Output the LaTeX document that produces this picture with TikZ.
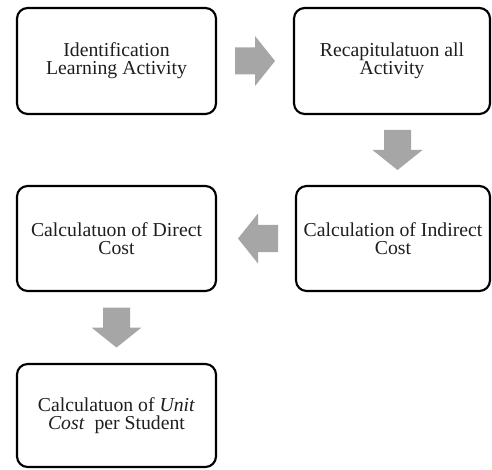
\documentclass[tikz,border=0pt]{standalone}
\usepackage{fontspec}
\setmainfont{Liberation Serif}
\usetikzlibrary{calc}
\definecolor{arrowgray}{RGB}{166,166,166}
\definecolor{inkgray}{RGB}{30,30,30}
\tikzset{
  stepbox/.style={draw=black, line width=1.6pt, rounded corners=8pt,
    rectangle, align=center, text=inkgray, inner sep=2pt,
    font=\fontsize{14.8}{13.6}\selectfont},
  blockarrow/.pic={
    \fill[arrowgray] (-20,-13.5) -- (0,-13.5) -- (0,-25) -- (20,0)
      -- (0,25) -- (0,13.5) -- (-20,13.5) -- cycle;
  }
}
\begin{document}
\begin{tikzpicture}[x=0.75pt, y=-0.75pt]
  \useasboundingbox (0,0) rectangle (492,470);
  % process steps
  \node[stepbox, minimum width=199*0.75pt, minimum height=106*0.75pt]
    (ident) at (116.5,61) {Identification\\Learning Activity};
  \node[stepbox, minimum width=196*0.75pt, minimum height=106*0.75pt]
    (recap) at (392,61) {Recapitulatuon all\\Activity};
  \node[stepbox, minimum width=194*0.75pt, minimum height=105*0.75pt]
    (indirect) at (393,238.5) {Calculation of Indirect\\Cost};
  \node[stepbox, minimum width=199*0.75pt, minimum height=105*0.75pt]
    (direct) at (116.5,238.5) {Calculatuon of Direct\\Cost};
  \node[stepbox, minimum width=199*0.75pt, minimum height=103*0.75pt]
    (unit) at (116.5,415.5) {Calculatuon of \textit{Unit}\\\textit{Cost}~ per Student};
  % block arrows between consecutive steps
  \pic at ($(ident.east)!0.5!(recap.west)$) {blockarrow};
  \pic[rotate=-90] at ($(recap.south)!0.5!(indirect.north)+(5,0)$) {blockarrow};
  \pic[rotate=180] at ($(indirect.west)!0.5!(direct.east)+(2,0)$) {blockarrow};
  \pic[rotate=-90] at ($(direct.south)!0.5!(unit.north)$) {blockarrow};
\end{tikzpicture}
\end{document}
